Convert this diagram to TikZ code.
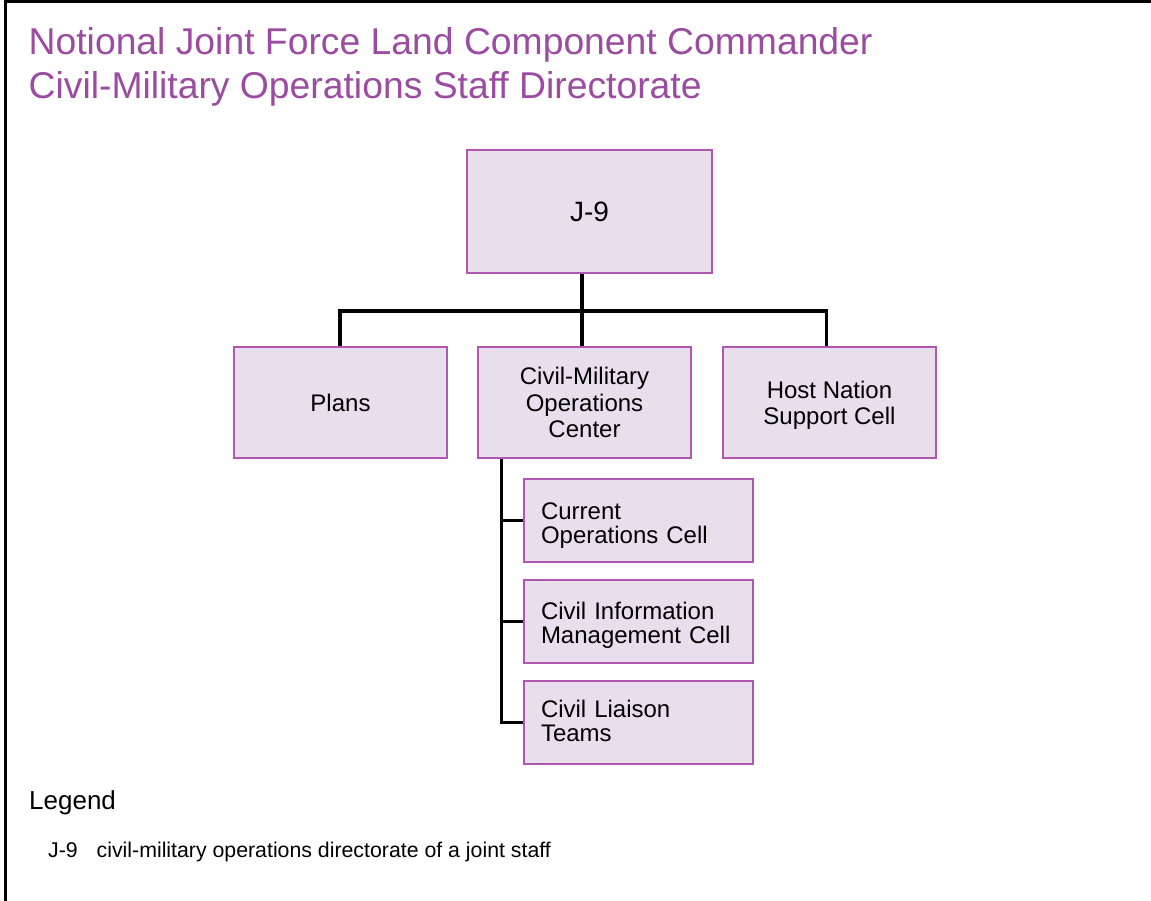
\documentclass[tikz,border=0pt]{standalone}
\usepackage{fontspec}
\setmainfont{Liberation Sans}
\definecolor{boxfill}{RGB}{233,222,236}
\definecolor{boxline}{RGB}{176,88,176}
\definecolor{titlecol}{RGB}{155,75,160}
\begin{document}
\begin{tikzpicture}[x=1pt,y=-1pt,
  orgbox/.style={draw=boxline, fill=boxfill, line width=1.2pt, inner sep=0pt, align=center, text depth=5pt, font=\fontsize{24}{26.5}\selectfont},
  subbox/.style={draw=boxline, fill=boxfill, line width=1.2pt, minimum width=229pt, minimum height=83pt, inner xsep=17pt, inner ysep=0pt, text width=195pt, align=left, text depth=25pt, font=\fontsize{24}{23.7}\selectfont},
  conn/.style={line width=3.1pt, black},
  plain/.style={anchor=base west, inner sep=0pt},
]
\useasboundingbox (0,0) rectangle (1151,901);
\fill[white] (0,0) rectangle (1151,901);
\draw[line width=3pt] (5,901) -- (5,2) -- (1151,2);

\node[plain, text=titlecol, font=\fontsize{37.3}{44}\selectfont] (t1) at (28.5,55) {Notional Joint Force Land Component Commander};
\node[plain, text=titlecol, font=\fontsize{37.3}{44}\selectfont] (t2) at (28.5,99) {Civil-Military Operations Staff Directorate};

\node[orgbox, minimum width=245pt, minimum height=123pt, text depth=0pt, text height=20pt, font=\fontsize{28}{30}\selectfont] (j9) at (589.5,211.5) {J-9};
\node[orgbox, minimum width=213pt, minimum height=111pt, text height=22pt] (plans) at (340.5,402.5) {Plans};
\node[orgbox, minimum width=213pt, minimum height=111pt, text height=75.5pt] (cmoc) at (584.5,402.5) {Civil-Military\\Operations\\Center};
\node[orgbox, minimum width=213pt, minimum height=111pt, text height=49pt] (hnsc) at (829.5,402.5) {Host Nation\\Support Cell};
\node[subbox, text height=22.6pt] (cur) at (638.5,520.5) {Current\\Operations Cell};
\node[subbox, text height=20.6pt] (cim) at (638.5,621.5) {Civil Information\\Management Cell};
\node[subbox, text height=15.4pt] (clt) at (638.5,722.5) {Civil Liaison\\Teams};

\coordinate (bus) at (582,311);
\coordinate (xl) at (340,0);
\coordinate (xr) at (826.5,0);
\draw[conn] (j9.south -| bus) -- (bus);
\draw[conn] (plans.north -| xl) |- (bus) -| (hnsc.north -| xr);
\draw[conn] (bus) -- (cmoc.north -| bus);
\draw[conn] ([xshift=24pt]cmoc.south west) coordinate (spine) |- (clt.west);
\draw[conn] (spine |- cur.west) -- (cur.west);
\draw[conn] (spine |- cim.west) -- (cim.west);

\node[plain, font=\fontsize{26}{30}\selectfont] (leg) at (29,809) {Legend};
\node[plain, font=\fontsize{21.3}{25}\selectfont] (legk) at (48,857) {J-9};
\node[plain, font=\fontsize{21.3}{25}\selectfont] (legv) at (96.5,857) {civil-military operations directorate of a joint staff};
\end{tikzpicture}
\end{document}
